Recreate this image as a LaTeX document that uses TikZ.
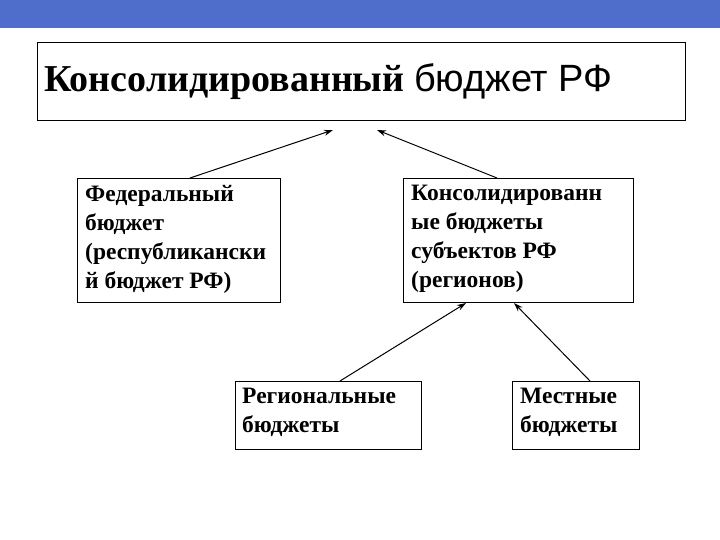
\documentclass[tikz,border=0pt]{standalone}
\usepackage{fontspec}
\usetikzlibrary{arrows.meta}
\setmainfont{Liberation Serif}
\newfontfamily\arialf{Liberation Sans}
\definecolor{topbar}{HTML}{4F6ECB}
\begin{document}
\begin{tikzpicture}[x=1pt,y=-1pt,
  bx/.style={draw=black,line width=0.8pt,fill=white},
  tx/.style={anchor=north west,align=left,font=\fontsize{23.5}{29}\selectfont\bfseries,inner sep=0pt},
  ar/.style={-{Stealth[length=9pt,width=6pt]},line width=1pt}]
\useasboundingbox (0,0) rectangle (720,540);
\fill[white] (0,0) rectangle (720,540);
\fill[topbar] (0,0) rectangle (720,28);
\draw[bx] (37,42) rectangle (685,120);
\node[anchor=west,inner sep=0pt] (t) at (44,82) {\fontsize{38}{40}\selectfont\bfseries Консолидированный \arialf\mdseries бюджет РФ};
\draw[bx] (77,178) rectangle (280,302);
\node[tx] (f) at (85,185) {Федеральный\\бюджет\\(республикански\\й бюджет РФ)};
\draw[bx] (403,178) rectangle (633,302);
\node[tx] (c) at (411,185) {Консолидированн\\ые бюджеты\\субъектов РФ\\(регионов)};
\draw[bx] (235,381) rectangle (421,449);
\node[tx] (r) at (242,388) {Региональные\\бюджеты};
\draw[bx] (512,381) rectangle (639,449);
\node[tx] (m) at (520,388) {Местные\\бюджеты};
\coordinate (a1) at (190,178); \coordinate (b1) at (333,130);
\coordinate (a2) at (497,178); \coordinate (b2) at (377,130);
\coordinate (a3) at (340,381); \coordinate (b3) at (466,303);
\coordinate (a4) at (590,381); \coordinate (b4) at (514,303);
\draw[ar] (a1) -- (b1);
\draw[ar] (a2) -- (b2);
\draw[ar] (a3) -- (b3);
\draw[ar] (a4) -- (b4);
\end{tikzpicture}
\end{document}
